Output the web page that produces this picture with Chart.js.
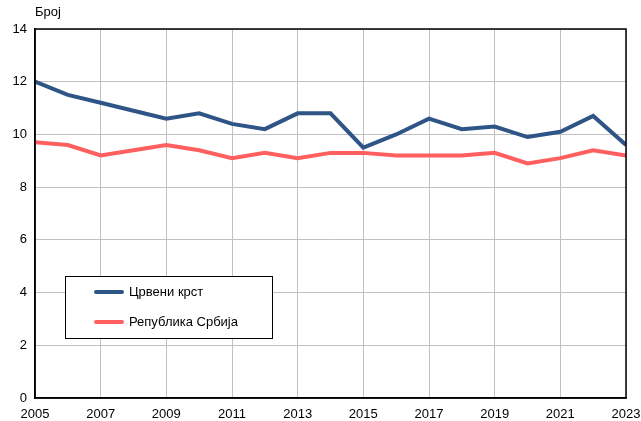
<!DOCTYPE html>
<html>
<head>
<meta charset="utf-8">
<script src="https://cdn.jsdelivr.net/npm/chart.js@4"></script>
<style>
  html, body { margin: 0; padding: 0; background: #fff; }
  #wrap { width: 641px; height: 421px; }
</style>
</head>
<body>
<div id="wrap"><canvas id="c" width="641" height="421"></canvas></div>
<script>
// подаци
const years = [2005, 2006, 2007, 2008, 2009, 2010, 2011, 2012, 2013, 2014,
               2015, 2016, 2017, 2018, 2019, 2020, 2021, 2022, 2023];
const crveniKrst = [12.0, 11.5, 11.2, 10.9, 10.6, 10.8, 10.4, 10.2, 10.8, 10.8,
                    9.5, 10.0, 10.6, 10.2, 10.3, 9.9, 10.1, 10.7, 9.6];
const srbija = [9.7, 9.6, 9.2, 9.4, 9.6, 9.4, 9.1, 9.3, 9.1, 9.3,
                9.3, 9.2, 9.2, 9.2, 9.3, 8.9, 9.1, 9.4, 9.2];
const seriesNames = ['Црвени крст', 'Република Србија'];
const yTicks = [0, 2, 4, 6, 8, 10, 12, 14];
const xTicks = [2005, 2007, 2009, 2011, 2013, 2015, 2017, 2019, 2021, 2023];
const axisTitle = 'Број';

const FONT = 'Arial, "Liberation Sans", sans-serif';

// оквир, наслов осе и легенда унутар графика
const extras = {
    id: 'extras',
    afterDraw(chart) {
        const ctx = chart.ctx;
        const a = chart.chartArea;
        ctx.save();
        ctx.strokeStyle = '#000';
        ctx.lineWidth = 1.5;
        ctx.strokeRect(a.left, a.top, a.right - a.left, a.bottom - a.top);

        ctx.fillStyle = '#000';
        ctx.font = '13px ' + FONT;
        ctx.textAlign = 'left';
        ctx.textBaseline = 'middle';
        ctx.fillText(axisTitle, a.left, 12);

        // легенда
        const bx = 65, by = 276, bw = 207, bh = 62;
        ctx.fillStyle = '#fff';
        ctx.fillRect(bx, by, bw, bh);
        ctx.strokeStyle = '#000';
        ctx.lineWidth = 1;
        ctx.strokeRect(bx + 0.5, by + 0.5, bw, bh);
        chart.data.datasets.forEach((ds, i) => {
            const yy = by + 16 + i * 30;
            ctx.strokeStyle = ds.borderColor;
            ctx.lineWidth = 4;
            ctx.lineCap = 'round';
            ctx.beginPath();
            ctx.moveTo(96, yy);
            ctx.lineTo(122, yy);
            ctx.stroke();
            ctx.fillStyle = '#000';
            ctx.font = '13px ' + FONT;
            ctx.fillText(ds.label, 129, yy);
        });
        ctx.restore();
    }
};

new Chart(document.getElementById('c'), {
    type: 'line',
    data: {
        datasets: [
            {
                label: seriesNames[0],
                data: years.map((y, i) => ({ x: y, y: crveniKrst[i] })),
                borderColor: '#2f5486',
                borderWidth: 4,
                pointRadius: 0,
                tension: 0
            },
            {
                label: seriesNames[1],
                data: years.map((y, i) => ({ x: y, y: srbija[i] })),
                borderColor: '#ff5f5f',
                borderWidth: 4,
                pointRadius: 0,
                tension: 0
            }
        ]
    },
    options: {
        responsive: false,
        animation: false,
        layout: { padding: { top: 29, right: 15, left: 0, bottom: 0 } },
        plugins: {
            legend: { display: false },
            title: { display: false },
            tooltip: { enabled: false }
        },
        scales: {
            x: {
                type: 'linear',
                min: 2005,
                max: 2023,
                afterBuildTicks: s => { s.ticks = xTicks.map(v => ({ value: v })); },
                afterFit: s => { s.height = 23; s.paddingLeft = 0; s.paddingRight = 0; },
                grid: { color: '#c0c0c0', lineWidth: 1, drawTicks: false },
                border: { color: '#000', width: 1.5 },
                ticks: {
                    color: '#000',
                    font: { family: FONT, size: 13 },
                    padding: 9,
                    maxRotation: 0,
                    callback: v => String(v)
                }
            },
            y: {
                min: 0,
                max: 14,
                afterBuildTicks: s => { s.ticks = yTicks.map(v => ({ value: v })); },
                afterFit: s => { s.width = 35; s.paddingTop = 0; s.paddingBottom = 0; },
                grid: { color: '#c0c0c0', lineWidth: 1, drawTicks: false },
                border: { color: '#000', width: 1.5 },
                ticks: {
                    color: '#000',
                    font: { family: FONT, size: 13 },
                    padding: 8
                }
            }
        }
    },
    plugins: [extras]
});
</script>
</body>
</html>
